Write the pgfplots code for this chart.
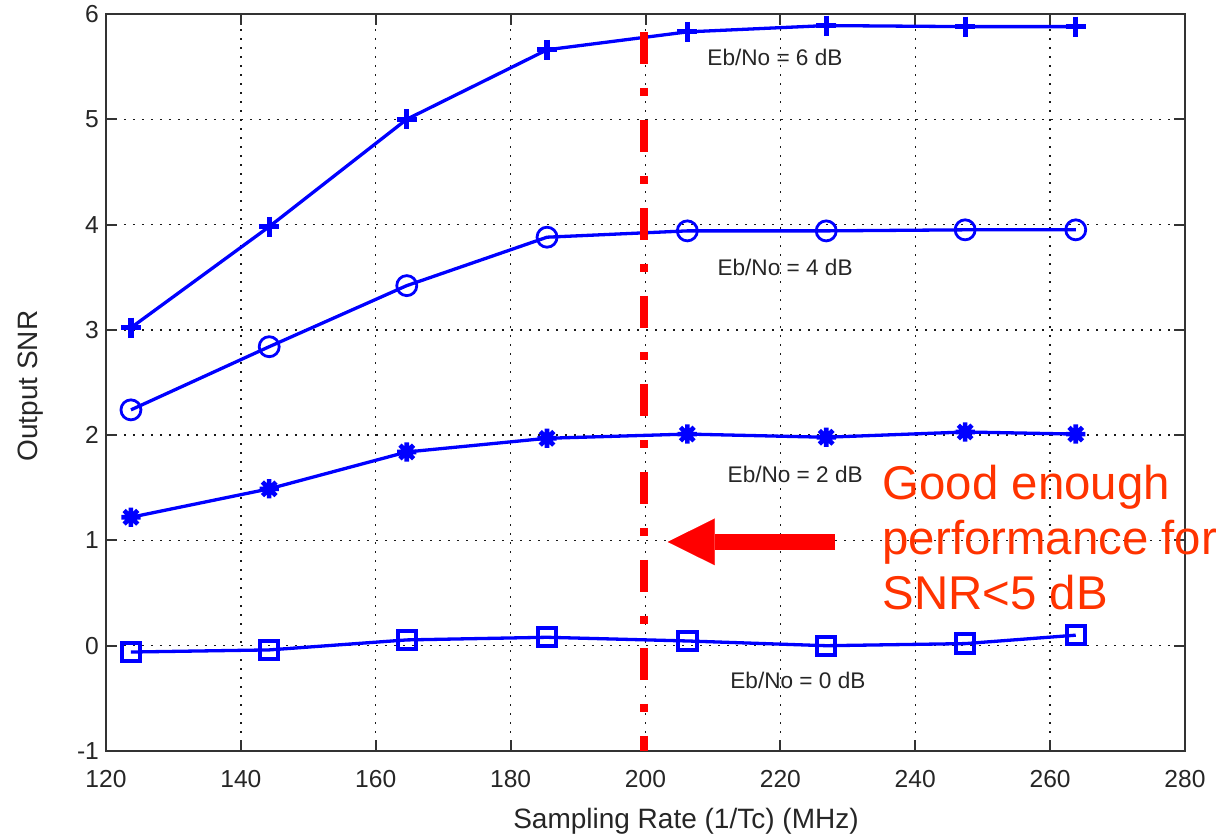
\documentclass[border=0pt]{standalone}
\usepackage{fontspec}
\setmainfont{Liberation Sans}
\usepackage{pgfplots}
\pgfplotsset{compat=1.18}
\usetikzlibrary{arrows.meta}

\definecolor{snrblue}{RGB}{0,0,255}
\definecolor{cutred}{RGB}{255,0,0}
\definecolor{notered}{RGB}{255,51,0}

% eight-armed star marker (plus and cross combined)
\pgfdeclareplotmark{mstar}{%
  \pgfpathmoveto{\pgfqpoint{-\pgfplotmarksize}{0pt}}%
  \pgfpathlineto{\pgfqpoint{\pgfplotmarksize}{0pt}}%
  \pgfpathmoveto{\pgfqpoint{0pt}{-\pgfplotmarksize}}%
  \pgfpathlineto{\pgfqpoint{0pt}{\pgfplotmarksize}}%
  \pgfpathmoveto{\pgfqpoint{-0.707\pgfplotmarksize}{-0.707\pgfplotmarksize}}%
  \pgfpathlineto{\pgfqpoint{0.707\pgfplotmarksize}{0.707\pgfplotmarksize}}%
  \pgfpathmoveto{\pgfqpoint{-0.707\pgfplotmarksize}{0.707\pgfplotmarksize}}%
  \pgfpathlineto{\pgfqpoint{0.707\pgfplotmarksize}{-0.707\pgfplotmarksize}}%
  \pgfusepathqstroke}

\begin{document}
\begin{tikzpicture}
\begin{axis}[
  at={(0,0)}, anchor=south west,
  scale only axis, width=539.5pt, height=368.5pt,
  xmin=120, xmax=280, ymin=-1, ymax=6,
  xtick={120,140,...,280}, ytick={-1,0,...,6},
  grid=major,
  major grid style={black!90, line width=0.75pt, dash pattern=on 0.9pt off 3.6pt},
  axis line style={black!80, line width=1pt},
  tick style={black!80, line width=1pt},
  tick align=inside, major tick length=5.5pt,
  ticklabel style={font=\fontsize{12.3}{14}\selectfont, text=black!85},
  /pgf/number format/assume math mode=true,
  xticklabel style={yshift=-6pt},
  xlabel={Sampling Rate (1/Tc) (MHz)},
  ylabel={Output SNR},
  label style={font=\fontsize{14}{16}\selectfont, text=black!85},
  xlabel style={at={(axis description cs:0.5375,-0.095)}, anchor=center},
  ylabel style={at={(axis description cs:-0.0695,0.495)}, anchor=center},
  clip=false,
  every axis plot/.append style={snrblue, line width=1.65pt},
]

% Eb/No = 6 dB
\addplot[mark=+, mark size=5pt, mark options={line width=2.6pt}] coordinates {
  (123.7,3.02) (144.2,3.98) (164.6,5.00) (185.4,5.66)
  (206.2,5.83) (226.8,5.89) (247.4,5.88) (263.8,5.88)};
% Eb/No = 4 dB
\addplot[mark=o, mark size=5pt, mark options={line width=1.4pt}] coordinates {
  (123.7,2.24) (144.2,2.84) (164.6,3.42) (185.4,3.88)
  (206.2,3.94) (226.8,3.94) (247.4,3.95) (263.8,3.95)};
% Eb/No = 2 dB
\addplot[mark=mstar, mark size=4.8pt, mark options={line width=2.3pt}] coordinates {
  (123.7,1.22) (144.2,1.49) (164.6,1.84) (185.4,1.97)
  (206.2,2.01) (226.8,1.98) (247.4,2.03) (263.8,2.01)};
% Eb/No = 0 dB
\addplot[mark=square, mark size=4.6pt, mark options={line width=2pt}] coordinates {
  (123.7,-0.06) (144.2,-0.04) (164.6,0.055) (185.4,0.08)
  (206.2,0.045) (226.8,0.00) (247.4,0.02) (263.8,0.10)};

% sampling-rate threshold
\addplot[cutred, line width=3.7pt, dash pattern=on 16pt off 12pt on 4pt off 12pt, mark=none]
  coordinates {(199.8,5.83) (199.8,-1)};

\draw[cutred, line width=8pt, -{Triangle[length=23.5pt,width=23.3pt,line width=0.01pt]}]
  (axis cs:228.1,0.986) -- (axis cs:203.3,0.986);

\node[font=\fontsize{11.3}{13}\selectfont, text=black!85] at (axis cs:219.2,5.59) {Eb/No = 6 dB};
\node[font=\fontsize{11.3}{13}\selectfont, text=black!85] at (axis cs:220.7,3.59) {Eb/No = 4 dB};
\node[font=\fontsize{11.3}{13}\selectfont, text=black!85] at (axis cs:222.2,1.63) {Eb/No = 2 dB};
\node[font=\fontsize{11.3}{13}\selectfont, text=black!85] at (axis cs:222.6,-0.325) {Eb/No = 0 dB};

\node[anchor=base west, inner sep=0pt, text=notered, font=\fontsize{23.7}{28}\selectfont]
  at (axis cs:235.1,1.385) {Good enough};
\node[anchor=base west, inner sep=0pt, text=notered, font=\fontsize{23.7}{28}\selectfont]
  at (axis cs:235.1,0.862) {performance for};
\node[anchor=base west, inner sep=0pt, text=notered, font=\fontsize{23.7}{28}\selectfont]
  at (axis cs:235.1,0.340) {SNR<5 dB};
\end{axis}
\pgfresetboundingbox
\path[use as bounding box] (-53pt,-44.5pt) rectangle (561pt,375.5pt);
\end{tikzpicture}
\end{document}
